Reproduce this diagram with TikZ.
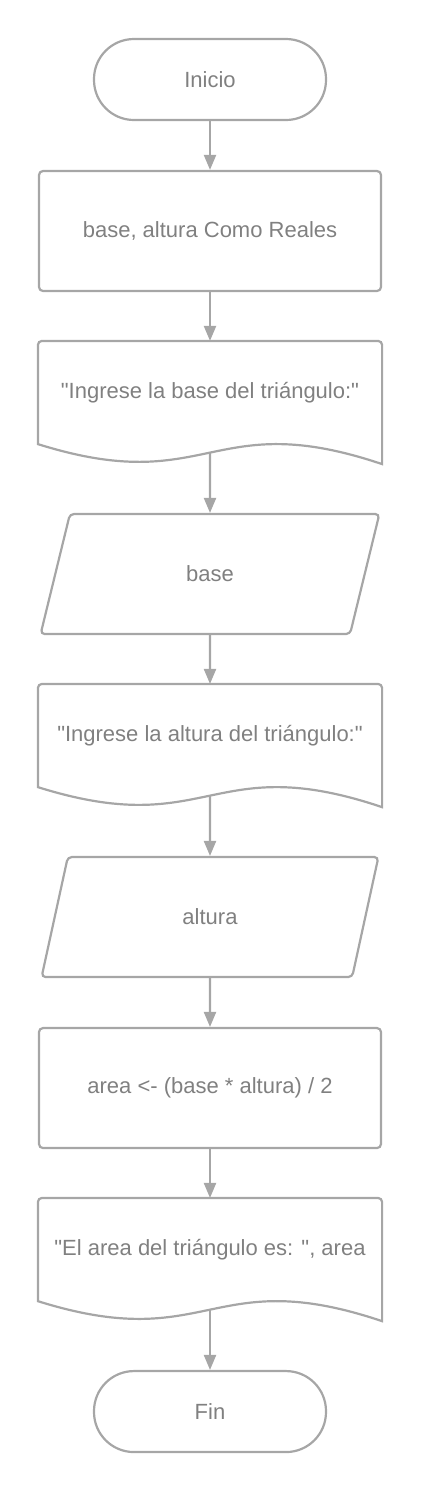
\documentclass[tikz,border=0pt]{standalone}
\usepackage{fontspec}
\setmainfont{Liberation Sans}[Ligatures=TeXOff]
\usepackage{tikz}
\usetikzlibrary{arrows.meta, positioning, shapes, calc}

\definecolor{linegray}{HTML}{A6A6A6}
\definecolor{textgray}{HTML}{808080}

\begin{document}
\begin{tikzpicture}[
    node distance=48.8pt,
    chart/.style={draw=linegray, line width=2.2pt, text=textgray, font=\fontsize{22}{26}\selectfont, align=center},
    terminal/.style={chart, rectangle, rounded corners=40pt, minimum width=232pt, minimum height=81pt},
    process/.style={chart, rectangle, rounded corners=4pt, minimum width=342pt, minimum height=120pt},
    docbox/.style={chart, draw=none, rectangle, minimum width=342pt, minimum height=101pt},
    iobox/.style={chart, trapezium, trapezium left angle=76, trapezium right angle=104, trapezium stretches=true, rounded corners=4pt, minimum width=339pt, minimum height=120pt},
    flow/.style={draw=linegray, line width=2.2pt, -{Triangle[length=15pt,width=12pt]}}
]
    \useasboundingbox (0,0) rectangle (421pt,-1492pt);

    \node[terminal] (inicio) at (210pt,-79.5pt) {Inicio};
    \node[process, below=of inicio] (decl) {base, altura Como Reales};
    \node[docbox, below=of decl] (pedirbase) {"Ingrese la base del triángulo:"};
    \node[iobox, below=68.8pt of pedirbase] (leerbase) {base};
    \node[docbox, below=of leerbase] (pediraltura) {"Ingrese la altura del triángulo:"};
    \node[iobox, below=68.8pt of pediraltura] (leeraltura) {altura};
    \node[process, below=of leeraltura] (area) {area <- (base * altura) / 2};
    \node[docbox, below=of area] (mostrar) {"El area del triángulo es: ", area};
    \node[terminal, below=68.8pt of mostrar] (fin) {Fin};

    \foreach \n in {pedirbase, pediraltura, mostrar} {
        \draw[linegray, line width=2.2pt] (\n.south west) [rounded corners=4pt] -- (\n.north west) -- (\n.north east) [sharp corners] -- ($(\n.south east)+(0,-20pt)$) .. controls ($(\n.south)+(0,38pt)$) and ($(\n.south)+(0,-54pt)$) .. (\n.south west) -- cycle;
        \coordinate (\n-w) at ($(\n.south)+(0,-8.5pt)$);
    }

    \draw[flow] (inicio) -- (decl);
    \draw[flow] (decl) -- (pedirbase);
    \draw[flow] (pedirbase-w) -- (leerbase);
    \draw[flow] (leerbase) -- (pediraltura);
    \draw[flow] (pediraltura-w) -- (leeraltura);
    \draw[flow] (leeraltura) -- (area);
    \draw[flow] (area) -- (mostrar);
    \draw[flow] (mostrar-w) -- (fin);
\end{tikzpicture}
\end{document}
